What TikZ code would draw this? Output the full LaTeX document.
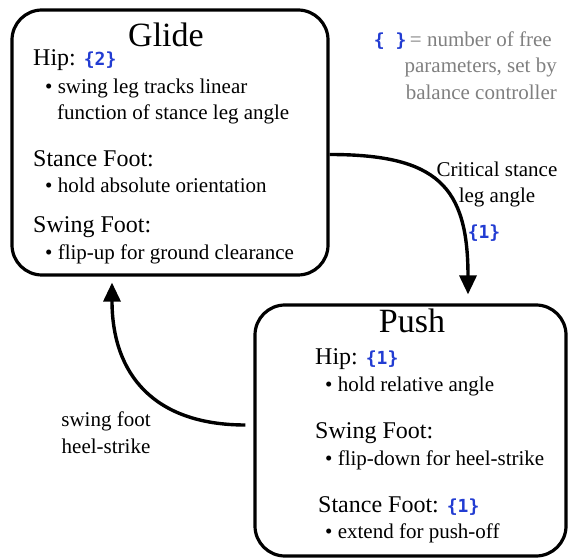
\documentclass[tikz,border=0pt]{standalone}
\usepackage{fontspec}
\setmainfont{Liberation Serif}
\newfontfamily\bracefont{DejaVu Sans Mono}
\usetikzlibrary{
    arrows.meta,
    positioning
}
\definecolor{parblue}{RGB}{34,60,210}
\definecolor{notegray}{RGB}{128,128,128}
\newcommand{\npar}[1]{{\bracefont\bfseries\fontsize{18}{20}\selectfont\color{parblue}#1}}
\tikzset{
    statebox/.style={draw, line width=3.2pt, rounded corners=30pt},
    phasetitle/.style={anchor=base, inner sep=0pt, font=\fontsize{34}{38}\selectfont},
    jointhead/.style={anchor=base west, inner sep=0pt, font=\fontsize{24}{28}\selectfont},
    jointitem/.style={anchor=base west, inner sep=0pt, font=\fontsize{21}{24}\selectfont},
    edgetext/.style={anchor=base, inner sep=0pt, font=\fontsize{21}{24}\selectfont},
    notetext/.style={anchor=base east, inner sep=0pt, text=notegray, font=\fontsize{21}{24}\selectfont},
    trans/.style={line width=3.4pt, -{Triangle[length=19pt, width=17pt]}}
}

\begin{document}
\begin{tikzpicture}[x=1pt, y=1pt]
    \useasboundingbox (0, 0) rectangle (569, 559);

    \node[statebox, minimum width=316pt, minimum height=265pt] (glide) at (170, 416.5) {};
    \node[statebox, minimum width=311pt, minimum height=251pt] (push) at (410.5, 128.5) {};

    \node[phasetitle] (glidetitle) at (166, 512) {Glide};
    \node[jointhead] (glidehip) at (33, 493) {Hip: \npar{\{2\}}};
    \node[jointitem] (glidehipa) at (45, 465) {\textbullet\ swing leg tracks linear};
    \node[jointitem] (glidehipb) at (57, 439) {function of stance leg angle};
    \node[jointhead] (glidestance) at (33, 392) {Stance Foot:};
    \node[jointitem] (glidestancea) at (45, 366) {\textbullet\ hold absolute orientation};
    \node[jointhead] (glideswing) at (33, 326) {Swing Foot:};
    \node[jointitem] (glideswinga) at (45, 299) {\textbullet\ flip-up for ground clearance};

    \node[phasetitle] (pushtitle) at (412, 226) {Push};
    \node[jointhead] (pushhip) at (315, 194) {Hip: \npar{\{1\}}};
    \node[jointitem] (pushhipa) at (325, 167) {\textbullet\ hold relative angle};
    \node[jointhead] (pushswing) at (315, 121) {Swing Foot:};
    \node[jointitem] (pushswinga) at (325, 94) {\textbullet\ flip-down for heel-strike};
    \node[jointhead] (pushstance) at (318, 47) {Stance Foot: \npar{\{1\}}};
    \node[jointitem] (pushstancea) at (325, 21) {\textbullet\ extend for push-off};

    \node[notetext] (notea) at (552, 512) {\npar{\{ \}}\,= number of free};
    \node[notetext] (noteb) at (557, 486) {parameters, set by};
    \node[notetext] (notec) at (557, 459) {balance controller};

    \draw[trans] ([yshift=-12pt]glide.east) to[out=0, in=90, looseness=1.4] ([xshift=57.5pt, yshift=9pt]push.north);
    \node[edgetext] (crita) at (497, 382) {Critical stance};
    \node[edgetext] (critb) at (497, 356) {leg angle};
    \node (critpar) at (484, 326) {\npar{\{1\}}};

    \draw[trans] ([xshift=-8pt, yshift=5.5pt]push.west) to[out=180, in=-90, looseness=1.2] ([xshift=-58pt, yshift=-6pt]glide.south);
    \node[edgetext] (strikea) at (106, 132) {swing foot};
    \node[edgetext] (strikeb) at (106, 106) {heel-strike};
\end{tikzpicture}
\end{document}
